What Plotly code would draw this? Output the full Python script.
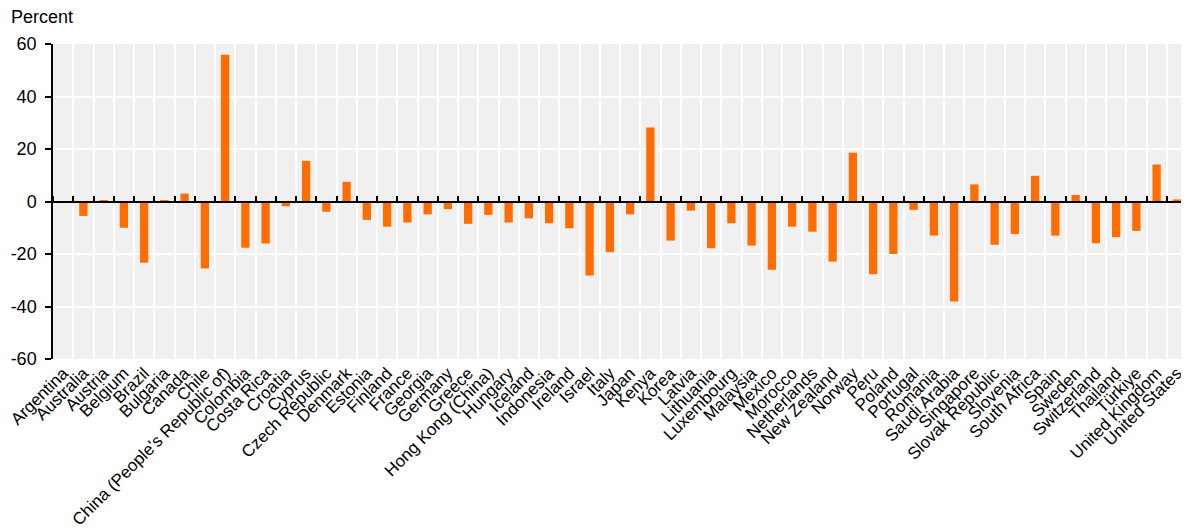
import plotly.graph_objects as go

countries = [
    "Argentina", "Australia", "Austria", "Belgium", "Brazil", "Bulgaria", "Canada", "Chile",
    "China (People's Republic of)", "Colombia", "Costa Rica", "Croatia", "Cyprus",
    "Czech Republic", "Denmark", "Estonia", "Finland", "France", "Georgia", "Germany",
    "Greece", "Hong Kong (China)", "Hungary", "Iceland", "Indonesia", "Ireland", "Israel",
    "Italy", "Japan", "Kenya", "Korea", "Latvia", "Lithuania", "Luxembourg", "Malaysia",
    "Mexico", "Morocco", "Netherlands", "New Zealand", "Norway", "Peru", "Poland",
    "Portugal", "Romania", "Saudi Arabia", "Singapore", "Slovak Republic", "Slovenia",
    "South Africa", "Spain", "Sweden", "Switzerland", "Thailand", "Türkiye",
    "United Kingdom", "United States",
]

values = [
    0.0, -5.5, 0.3, -10.0, -23.3, 0.5, 3.0, -25.5,
    55.9, -17.6, -16.0, -1.8, 15.5,
    -3.9, 7.5, -7.0, -9.6, -8.0, -4.9, -2.9,
    -8.5, -5.1, -8.0, -6.4, -8.3, -10.2, -28.2,
    -19.3, -4.9, 28.2, -14.9, -3.5, -17.8, -8.3, -16.8,
    -26.0, -9.6, -11.5, -22.9, 18.6, -27.7, -20.0,
    -3.2, -13.0, -38.1, 6.5, -16.5, -12.4,
    9.8, -13.0, 2.5, -15.9, -13.6, -11.2,
    14.1, 0.8,
]

y_ticks = [-60, -40, -20, 0, 20, 40, 60]

FONT = "Liberation Sans, Arial, sans-serif"
ORANGE = "#ff6d00"

# page body has an 8px margin; figure is sized so the plot lands where the reference has it
W, H = 1181, 524
ML, MT, MR, MB = 45, 36, 2, 173
PW = W - ML - MR
PH = H - MT - MB

fig = go.Figure()
fig.add_trace(go.Bar(
    x=countries, y=values, marker=dict(color=ORANGE, line=dict(width=0)),
    width=0.41, showlegend=False,
))
# helper invisible trace so the zero-line axis carries the same categories
fig.add_trace(go.Scatter(
    x=countries, y=[0] * len(countries), xaxis="x2", mode="markers",
    marker=dict(opacity=0), hoverinfo="skip", showlegend=False,
))

fig.update_layout(
    width=W, height=H,
    margin=dict(l=ML, r=MR, t=MT, b=MB, autoexpand=False),
    paper_bgcolor="white",
    plot_bgcolor="#f0f0f0",
    font=dict(family=FONT, size=18, color="black"),
    xaxis=dict(
        type="category",
        automargin=False,
        tickmode="array",
        tickvals=countries,
        ticktext=countries,
        tickangle=-45,
        tickson="boundaries",
        ticks="",
        showgrid=True, gridcolor="white", gridwidth=2,
        showline=False, zeroline=False,
        tickfont=dict(family=FONT, size=17, color="black"),
        range=[-0.5, len(countries) - 0.5],
    ),
    xaxis2=dict(
        matches="x",
        overlaying="x",
        automargin=False,
        side="top",
        anchor="free",
        position=0.5,
        showline=True, linecolor="black", linewidth=1.5,
        tickmode="array", tickvals=countries,
        ticks="outside", tickson="boundaries", ticklen=5, tickwidth=1.5, tickcolor="black",
        showticklabels=False, showgrid=False, zeroline=False,
    ),
    yaxis=dict(
        range=[-60, 60],
        automargin=False,
        tickvals=y_ticks,
        ticktext=[str(v) for v in y_ticks],
        showgrid=True, gridcolor="white", gridwidth=2,
        zeroline=False,
        showline=True, linecolor="black", linewidth=1.5,
        ticks="outside", ticklen=6, tickwidth=1.5, tickcolor="black",
        tickfont=dict(family=FONT, size=18, color="black"),
        ticklabelstandoff=5,
    ),
    annotations=[dict(
        text="Percent", xref="paper", yref="paper",
        x=(1 - ML) / PW, y=1 + (MT - 9) / PH,
        xanchor="left", yanchor="middle", showarrow=False,
        font=dict(family=FONT, size=18, color="black"),
    )],
)

fig.write_html("out.html")
